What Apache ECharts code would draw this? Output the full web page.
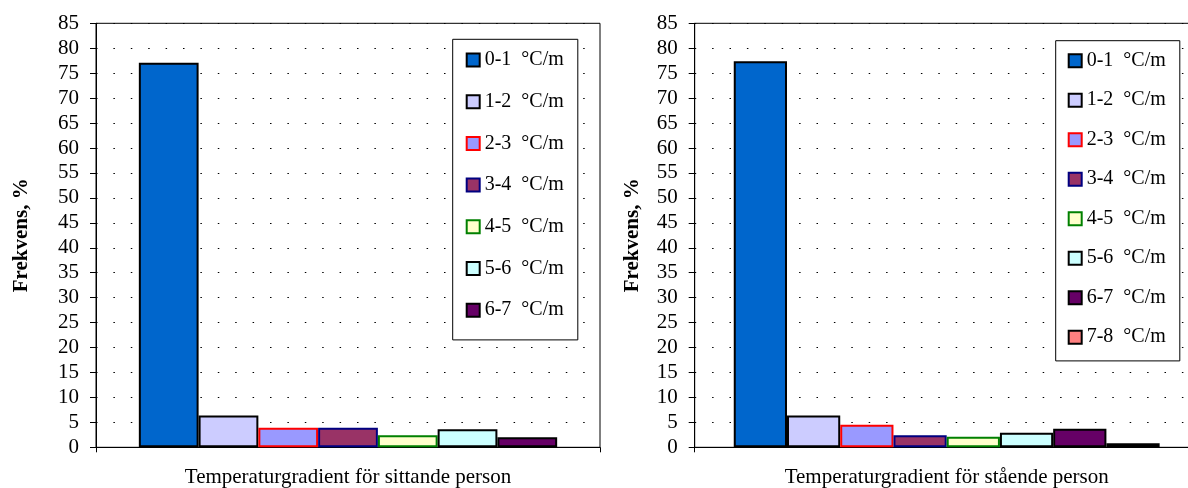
<!DOCTYPE html>
<html>
<head>
<meta charset="utf-8">
<script src="https://cdn.jsdelivr.net/npm/echarts@6/dist/echarts.min.js"></script>
<style>
html,body{margin:0;padding:0;background:#fff;}
#chart{width:1188px;height:488px;}
</style>
</head>
<body>
<div id="chart"></div>
<script>
// ---- data ----
var yTicks = [0, 5, 10, 15, 20, 25, 30, 35, 40, 45, 50, 55, 60, 65, 70, 75, 80, 85];
var sittingNames = ['0-1  °C/m', '1-2  °C/m', '2-3  °C/m', '3-4  °C/m', '4-5  °C/m', '5-6  °C/m', '6-7  °C/m'];
var sittingValues = [77.1, 6.4, 3.9, 3.9, 2.4, 3.6, 2.0];
var standingNames = ['0-1  °C/m', '1-2  °C/m', '2-3  °C/m', '3-4  °C/m', '4-5  °C/m', '5-6  °C/m', '6-7  °C/m', '7-8  °C/m'];
var standingValues = [77.4, 6.4, 4.5, 2.4, 2.1, 2.9, 3.7, 0.8];
var xTitleSitting = 'Temperaturgradient för sittande person';
var xTitleStanding = 'Temperaturgradient för stående person';
var yTitle = 'Frekvens, %';

// ---- styles ----
var fills = ['#0066CC', '#CCCCFF', '#9999FF', '#993366', '#FFFFCC', '#CCFFFF', '#660066', '#FF8080'];
var borders = ['#000000', '#000000', '#FF0000', '#000080', '#008000', '#000000', '#000000', '#000000'];
var FONT = '"Times New Roman", "Liberation Serif", serif';

var chart = echarts.init(document.getElementById('chart'), null, {renderer: 'canvas'});

function makeSeries(names, values, idx, gap) {
  return names.map(function (n, i) {
    return {
      name: n,
      type: 'bar',
      xAxisIndex: idx,
      yAxisIndex: idx,
      barGap: '0%',
      barCategoryGap: gap,
      data: [values[i]],
      itemStyle: {color: fills[i], borderColor: borders[i], borderWidth: 2},
      emphasis: {disabled: true},
      animation: false
    };
  });
}

function xAxis(idx, title) {
  return {
    type: 'category',
    gridIndex: idx,
    data: [''],
    name: title,
    nameLocation: 'middle',
    nameGap: 20,
    nameTextStyle: {fontFamily: FONT, fontSize: 21, color: '#000'},
    axisLine: {lineStyle: {color: '#000', width: 1}},
    axisTick: {show: true, length: 5, lineStyle: {color: '#000'}},
    axisLabel: {show: false},
    splitLine: {show: false}
  };
}

function yAxis(idx, gap) {
  return {
    type: 'value',
    gridIndex: idx,
    min: 0,
    max: 85,
    interval: 5,
    name: yTitle,
    nameLocation: 'middle',
    nameRotate: 90,
    nameGap: gap,
    nameTextStyle: {fontFamily: FONT, fontSize: 21, fontWeight: 'bold', color: '#000'},
    axisLine: {show: true, lineStyle: {color: '#000', width: 1}},
    axisTick: {show: true, length: 6, lineStyle: {color: '#000'}},
    axisLabel: {fontFamily: FONT, fontSize: 21, color: '#000', margin: 17},
    splitLine: {show: true, lineStyle: {color: '#000', width: 1, type: [1.5, 15.9]}}
  };
}

function legend(names, left, top, gap, pad) {
  return {
    data: names,
    orient: 'vertical',
    left: left,
    top: top,
    icon: 'rect',
    itemWidth: 13,
    itemHeight: 13,
    itemGap: gap,
    padding: pad,
    borderColor: '#000',
    borderWidth: 1,
    backgroundColor: '#fff',
    selectedMode: false,
    textStyle: {fontFamily: FONT, fontSize: 20, color: '#000', lineHeight: 20}
  };
}

var option = {
  backgroundColor: '#fff',
  animation: false,
  grid: [
    {left: 96, top: 23.3, width: 504, height: 424, show: true, borderColor: '#000', borderWidth: 1,
     backgroundColor: 'transparent', containLabel: false, outerBoundsMode: 'none'},
    {left: 694.7, top: 23.3, width: 504, height: 424, show: true, borderColor: '#000', borderWidth: 1,
     backgroundColor: 'transparent', containLabel: false, outerBoundsMode: 'none'}
  ],
  xAxis: [xAxis(0, xTitleSitting), xAxis(1, xTitleStanding)],
  yAxis: [yAxis(0, 64), yAxis(1, 52)],
  legend: [
    legend(sittingNames, 452.7, 39.3, 21.7, [10.7, 14, 19.7, 13]),
    legend(standingNames, 1055.7, 40.7, 19.5, [10, 14, 13.7, 12])
  ],
  series: makeSeries(sittingNames, sittingValues, 0, '17%').concat(makeSeries(standingNames, standingValues, 1, '15.5%'))
};
chart.setOption(option);
</script>
</body>
</html>
